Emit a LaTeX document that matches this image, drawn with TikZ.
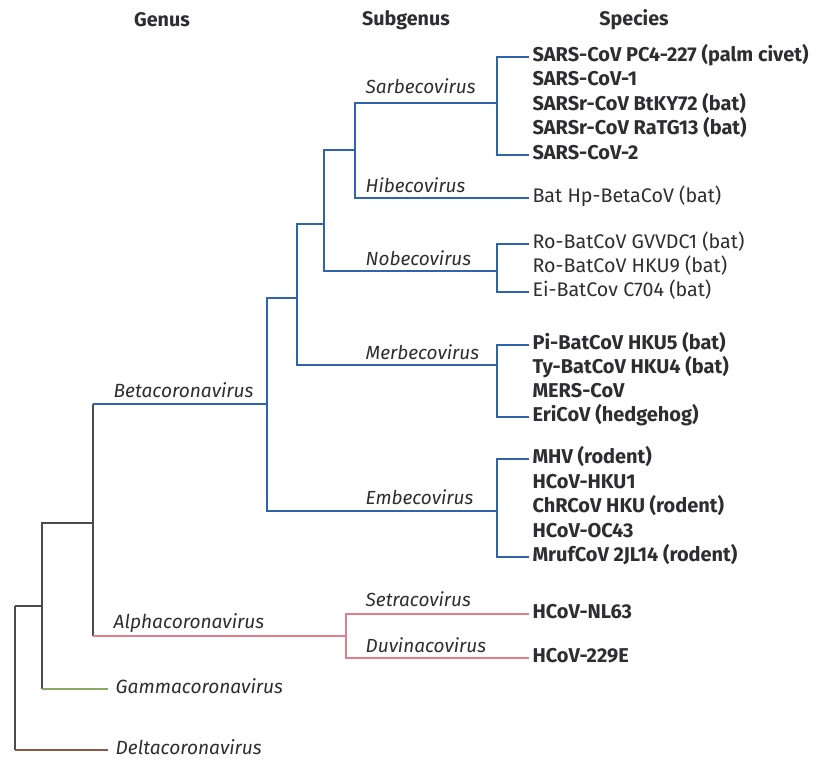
\documentclass[tikz,border=0pt]{standalone}
\usepackage{fontspec}
\setmainfont{Fira Sans}
\usetikzlibrary{positioning}

\definecolor{betablue}{RGB}{48,100,170}
\definecolor{alphapink}{RGB}{228,125,140}
\definecolor{gammagreen}{RGB}{135,170,100}
\definecolor{deltabrown}{RGB}{140,88,72}
\definecolor{stemgray}{RGB}{75,75,75}
\definecolor{txtgray}{RGB}{45,45,50}

\tikzset{
	header/.style={font=\bfseries\fontsize{14}{16}\selectfont, text=txtgray},
	genusname/.style={font=\itshape\fontsize{13.6}{16}\selectfont, text=txtgray, inner sep=0pt},
	endname/.style={genusname, anchor=west, text height=1.1ex, text depth=0pt, inner xsep=5pt},
	subname/.style={font=\itshape\fontsize{13.5}{16}\selectfont, text=txtgray, inner sep=0pt, anchor=base west},
	species/.style={font=\fontsize{14}{16}\selectfont, text=txtgray, anchor=west, inner ysep=0pt, inner xsep=2pt, text height=1.31ex, text depth=0pt},
	speciesb/.style={species, font=\bfseries\fontsize{14.2}{16}\selectfont},
}

\begin{document}
\begin{tikzpicture}[x=0.025cm, y=-0.025cm, line width=1pt]
	\useasboundingbox (0,0) rectangle (815,758);
	
	% Kopfzeile
	\node[header] (hgenus) at (162,20) {Genus};
	\node[header] (hsubgenus) at (406,20) {Subgenus};
	\node[header] (hspecies) at (634,20) {Species};
	
	% Verzweigungen
	\coordinate (root) at (15,606);
	\coordinate (ngamma) at (42,606);
	\coordinate (nalbe) at (93,523);
	\coordinate (beta) at (267,404);
	\coordinate (bmer) at (297,298);
	\coordinate (bnob) at (324,224);
	\coordinate (bsar) at (355,150);
	\coordinate (sarbeco) at (497,103);
	\coordinate (nobeco) at (497,271);
	\coordinate (merbeco) at (497,365);
	\coordinate (embeco) at (497,511);
	\coordinate (alpha) at (346,636);
	\coordinate (gend) at (108,689);
	\coordinate (dend) at (108,750);
	
	% Gattungen
	\node[endname] (gamma) at (gend) {Gammacoronavirus};
	\node[endname] (delta) at (dend) {Deltacoronavirus};
	\node[genusname, anchor=base west] (lbeta) at (113,397) {Betacoronavirus};
	\node[genusname, anchor=base west] (lalpha) at (113,628) {Alphacoronavirus};
	
	% Untergattungen
	\node[subname] (lsar) at (365,93) {Sarbecovirus};
	\node[subname] (lhib) at (365,192) {Hibecovirus};
	\node[subname] (lnob) at (365,265) {Nobecovirus};
	\node[subname] (lmer) at (365,359) {Merbecovirus};
	\node[subname] (lemb) at (365,504) {Embecovirus};
	\node[subname] (lset) at (365,606) {Setracovirus};
	\node[subname] (lduv) at (365,652) {Duvinacovirus};
	
	% Arten
	\node[speciesb] (s1) at (529,57) {SARS-CoV PC4-227 (palm civet)};
	\node[speciesb] (s2) at (529,81) {SARS-CoV-1};
	\node[speciesb] (s3) at (529,106) {SARSr-CoV BtKY72 (bat)};
	\node[speciesb] (s4) at (529,130) {SARSr-CoV RaTG13 (bat)};
	\node[speciesb] (s5) at (529,155) {SARS-CoV-2};
	\node[species] (h1) at (529,198) {Bat Hp-BetaCoV (bat)};
	\node[species] (n1) at (529,244) {Ro-BatCoV GVVDC1 (bat)};
	\node[species] (n2) at (529,268) {Ro-BatCoV HKU9 (bat)};
	\node[species] (n3) at (529,292) {Ei-BatCov C704 (bat)};
	\node[speciesb] (m1) at (529,345) {Pi-BatCoV HKU5 (bat)};
	\node[speciesb] (m2) at (529,369) {Ty-BatCoV HKU4 (bat)};
	\node[speciesb] (m3) at (529,393) {MERS-CoV};
	\node[speciesb] (m4) at (529,417) {EriCoV (hedgehog)};
	\node[speciesb] (e1) at (529,459) {MHV (rodent)};
	\node[speciesb] (e2) at (529,484) {HCoV-HKU1};
	\node[speciesb] (e3) at (529,508) {ChRCoV HKU (rodent)};
	\node[speciesb] (e4) at (529,533) {HCoV-OC43};
	\node[speciesb] (e5) at (529,557) {MrufCoV 2JL14 (rodent)};
	\node[speciesb] (a1) at (529,614) {HCoV-NL63};
	\node[speciesb] (a2) at (529,658) {HCoV-229E};
	
	% Stamm
	\draw[stemgray] (root) -- (ngamma);
	\draw[stemgray] (root) -- (root |- delta.west);
	\draw[deltabrown] (root |- delta.west) -- (delta.west);
	\draw[stemgray] (ngamma) |- (nalbe);
	\draw[stemgray] (ngamma) -- (ngamma |- gamma.west);
	\draw[gammagreen] (ngamma |- gamma.west) -- (gamma.west);
	\draw[stemgray] (nalbe) -- (nalbe |- alpha);
	\draw[stemgray] (nalbe) -- (nalbe |- beta);
	\draw[alphapink] (nalbe |- alpha) -- (alpha);
	\draw[betablue] (nalbe |- beta) -- (beta);
	
	% Betacoronavirus
	\draw[betablue] (beta) |- (bmer);
	\draw[betablue] (beta) |- (embeco);
	\draw[betablue] (bmer) |- (bnob);
	\draw[betablue] (bmer) |- (merbeco);
	\draw[betablue] (bnob) |- (bsar);
	\draw[betablue] (bnob) |- (nobeco);
	\draw[betablue] (bsar) |- (sarbeco);
	\draw[betablue] (bsar) |- (h1.west);
	\draw[betablue] (sarbeco) |- (s1.west);
	\draw[betablue] (sarbeco) |- (s5.west);
	\draw[betablue] (nobeco) |- (n1.west);
	\draw[betablue] (nobeco) |- (n3.west);
	\draw[betablue] (merbeco) |- (m1.west);
	\draw[betablue] (merbeco) |- (m4.west);
	\draw[betablue] (embeco) |- (e1.west);
	\draw[betablue] (embeco) |- (e5.west);
	
	% Alphacoronavirus
	\draw[alphapink] (alpha) |- (a1.west);
	\draw[alphapink] (alpha) |- (a2.west);
	
\end{tikzpicture}
\end{document}
